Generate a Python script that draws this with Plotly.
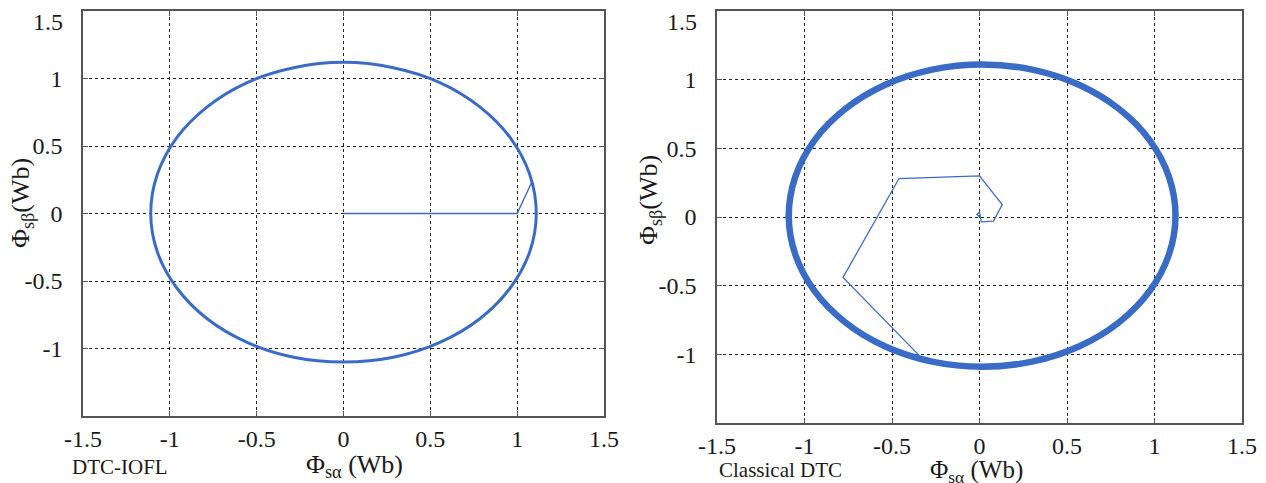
import plotly.graph_objects as go

# ---- data ----
tick_vals = [-1.5, -1, -0.5, 0, 0.5, 1, 1.5]
x_tick_text = ["-1.5", "-1", "-0.5", "0", "0.5", "1", "1.5"]
y_tick_text = ["", "-1", "-0.5", "0", "0.5", "1", ""]
y_top_label = "1.5"   # drawn slightly inside the top edge, as in the original

iofl_ring_x = [1.11, 1.072, 0.961, 0.785, 0.555, 0.287, 0.0, -0.287, -0.555, -0.785, -0.961, -1.072,
               -1.11, -1.072, -0.961, -0.785, -0.555, -0.287, 0.0, 0.287, 0.555, 0.785, 0.961, 1.072, 1.11]
iofl_ring_y = [0.0, 0.29, 0.56, 0.79, 0.97, 1.08, 1.12, 1.08, 0.97, 0.79, 0.56, 0.29,
               0.0, -0.285, -0.55, -0.78, -0.955, -1.065, -1.10, -1.065, -0.955, -0.78, -0.55, -0.285, 0.0]
# DTC-IOFL: start-up transient
iofl_start_x = [0.0, 1.0, 1.083]
iofl_start_y = [0.0, 0.0, 0.23]

# Classical DTC: steady-state flux locus
cls_ring_x = [1.12, 1.082, 0.972, 0.796, 0.568, 0.301, 0.015, -0.271, -0.538, -0.766, -0.942, -1.052,
              -1.09, -1.052, -0.942, -0.766, -0.538, -0.271, 0.015, 0.301, 0.568, 0.796, 0.972, 1.082, 1.12]
cls_ring_y = [0.01, 0.295, 0.56, 0.788, 0.963, 1.073, 1.11, 1.073, 0.963, 0.788, 0.56, 0.295,
              0.01, -0.275, -0.54, -0.768, -0.943, -1.053, -1.09, -1.053, -0.943, -0.768, -0.54, -0.275, 0.01]
# Classical DTC: start-up transient
cls_start_x = [0.0, -0.015, 0.0, 0.01, 0.08, 0.13, 0.0, -0.46, -0.78, -0.32]
cls_start_y = [0.0, 0.02, 0.035, -0.035, -0.03, 0.09, 0.30, 0.28, -0.44, -1.04]

panel_labels = ["DTC-IOFL", "Classical DTC"]

# ---- styling ----
BLUE = "#3a6cc6"
W, H = 1266, 483
FONT = "Liberation Serif, Times New Roman, serif"
TXT = "#1a1a1a"

fig = go.Figure()
fig.add_trace(go.Scatter(x=iofl_ring_x, y=iofl_ring_y, mode="lines", line=dict(color=BLUE, width=3, shape="spline"),
                         xaxis="x", yaxis="y", showlegend=False, hoverinfo="skip"))
fig.add_trace(go.Scatter(x=iofl_start_x, y=iofl_start_y, mode="lines", line=dict(color=BLUE, width=1.4),
                         xaxis="x", yaxis="y", showlegend=False, hoverinfo="skip"))
fig.add_trace(go.Scatter(x=cls_ring_x, y=cls_ring_y, mode="lines", line=dict(color=BLUE, width=6.5, shape="spline"),
                         xaxis="x2", yaxis="y2", showlegend=False, hoverinfo="skip"))
fig.add_trace(go.Scatter(x=cls_start_x, y=cls_start_y, mode="lines", line=dict(color=BLUE, width=1.3),
                         xaxis="x2", yaxis="y2", showlegend=False, hoverinfo="skip"))

def px_x(p):
    return p / W

def px_y(p):
    return 1 - p / H

axis_common = dict(
    range=[-1.5, 1.5], tickvals=tick_vals, automargin=False, ticklabeloverflow="allow",
    showgrid=True, gridcolor="#222", gridwidth=1, griddash="3px,3px",
    zeroline=False, showline=True, linecolor="#555", linewidth=1.5, mirror="ticks",
    ticks="inside", ticklen=5, tickcolor="#555",
    tickfont=dict(family=FONT, size=24, color=TXT),
)

fig.update_layout(
    width=W, height=H, margin=dict(l=0, r=0, t=0, b=0),
    paper_bgcolor="white", plot_bgcolor="white",
    xaxis=dict(domain=[px_x(83), px_x(604)], anchor="y", ticktext=x_tick_text, ticklabelstandoff=0, **axis_common),
    yaxis=dict(domain=[px_y(416), px_y(11)], anchor="x", ticktext=y_tick_text, ticklabelstandoff=14, **axis_common),
    xaxis2=dict(domain=[px_x(717), px_x(1242)], anchor="y2", ticktext=x_tick_text, ticklabelstandoff=0, **axis_common),
    yaxis2=dict(domain=[px_y(423), px_y(11)], anchor="x2", ticktext=y_tick_text, ticklabelstandoff=14, **axis_common),
)

title_font = dict(family=FONT, size=26, color=TXT)
title_font_r = dict(family=FONT, size=25, color=TXT)
label_font = dict(family=FONT, size=21, color=TXT)
tick_font = dict(family=FONT, size=24, color=TXT)
annotations = [
    dict(text="Φ<sub>sα</sub> (Wb)", x=px_x(354), y=px_y(466), xref="paper", yref="paper",
         showarrow=False, font=title_font, xanchor="center", yanchor="middle"),
    dict(text="Φ<sub>sα</sub> (Wb)", x=px_x(976), y=px_y(471), xref="paper", yref="paper",
         showarrow=False, font=title_font_r, xanchor="center", yanchor="middle"),
    dict(text="Φ<sub>sβ</sub>(Wb)", x=px_x(22), y=px_y(203), xref="paper", yref="paper",
         showarrow=False, font=title_font, textangle=-90, xanchor="center", yanchor="middle"),
    dict(text="Φ<sub>sβ</sub>(Wb)", x=px_x(650), y=px_y(200), xref="paper", yref="paper",
         showarrow=False, font=title_font, textangle=-90, xanchor="center", yanchor="middle"),
    dict(text=panel_labels[0], x=px_x(70), y=px_y(467), xref="paper", yref="paper",
         showarrow=False, font=label_font, xanchor="left", yanchor="middle"),
    dict(text=panel_labels[1], x=px_x(717), y=px_y(470), xref="paper", yref="paper",
         showarrow=False, font=label_font, xanchor="left", yanchor="middle"),
    dict(text=y_top_label, x=px_x(65), y=px_y(22), xref="paper", yref="paper",
         showarrow=False, font=tick_font, xanchor="right", yanchor="middle"),
    dict(text=y_top_label, x=px_x(699), y=px_y(22), xref="paper", yref="paper",
         showarrow=False, font=tick_font, xanchor="right", yanchor="middle"),
]
fig.update_layout(annotations=annotations)

fig.write_html("out.html", config={"displayModeBar": False},
               post_script="document.body.style.margin='0';document.body.style.overflow='hidden';")
